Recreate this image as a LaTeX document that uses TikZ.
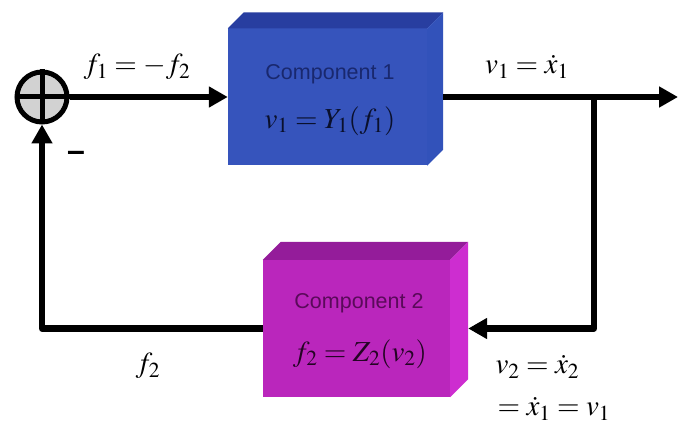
\documentclass[tikz,border=0pt]{standalone}
\usepackage{mathptmx}
\usepackage{fontspec}
\newfontfamily\compfont{Liberation Sans}
\usetikzlibrary{arrows.meta, calc}
\definecolor{blueFront}{RGB}{54,84,188}
\definecolor{blueTop}{RGB}{40,62,160}
\definecolor{blueSide}{RGB}{50,82,186}
\definecolor{blueText}{RGB}{25,40,110}
\definecolor{pinkFront}{RGB}{186,38,188}
\definecolor{pinkTop}{RGB}{148,28,154}
\definecolor{pinkSide}{RGB}{205,45,208}
\definecolor{pinkText}{RGB}{90,10,90}
% top and right faces of a box node: name, depth, top colour, side colour
\newcommand{\BoxFaces}[4]{%
    \fill[#3] (#1.north west) -- ++(#2,-#2) -- ([shift={(#2,-#2)}]#1.north east) -- (#1.north east) -- cycle;
    \fill[#4] (#1.north east) -- ++(#2,-#2) -- ([shift={(#2,-#2)}]#1.south east) -- (#1.south east) -- cycle;
}

\begin{document}
\begin{tikzpicture}[x=1pt, y=-1pt,
    flow/.style={line width=6.5pt, -{Triangle[length=19pt, width=20pt]}},
    sumnode/.style={circle, draw, line width=5pt, fill=gray!35, minimum size=50pt, inner sep=0pt},
    frontbox/.style={minimum width=#1, minimum height=137pt, inner sep=0pt},
    lbl/.style={font=\fontsize{29}{33}\selectfont},
    comptext/.style={font=\compfont\fontsize{21.5}{24}\selectfont},
    signlbl/.style={font=\compfont\bfseries\fontsize{32}{34}\selectfont}]
    \useasboundingbox (0,0) rectangle (678,425);

    % Explicit coordinates (pixels, y downwards)
    \node[sumnode] (sum) at (42,97) {};
    \draw[line width=5pt] (sum.north) -- (sum.south) (sum.west) -- (sum.east);

    \node[frontbox=199pt, fill=blueFront] (comp1) at (327.5,97) {};  % Component 1
    \BoxFaces{comp1}{16}{blueTop}{blueSide}
    \node[frontbox=187pt, fill=pinkFront] (comp2) at (356.5,328.5) {}; % Component 2
    \BoxFaces{comp2}{18}{pinkTop}{pinkSide}

    \coordinate (branch) at (594,97);
    \coordinate (out)    at (678,97);

    % connectors
    \draw[flow] (sum.east) -- (comp1.west);
    \draw[flow] ([xshift=16pt]comp1.east) -- (out);
    \draw[flow, line join=round] (branch) |- ([xshift=18pt]comp2.east);
    \draw[flow, line join=round] (comp2.west) -| (sum.south);

    % labels
    \node[lbl] (f1lbl) at (137,67) {$f_1 = -f_2$};
    \node[lbl] (v1lbl) at (527,67) {$v_1 = \dot{x}_1$};
    \node[signlbl] (minus) at (76,156) {–};
    \node[lbl] (f2lbl) at (148,366) {$f_2$};
    \node[lbl, anchor=west] (v2lbl) at (492,367) {$v_2 = \dot{x}_2$};
    \node[lbl, anchor=west] (v1eq) at (494,409) {$= \dot{x}_1 = v_1$};

    \node[comptext, text=blueText] (c1name) at (330,74) {Component 1};
    \node[lbl, text=blueText!40!black] (c1eq) at (330,121) {$v_1 = Y_1(f_1)$};
    \node[comptext, text=pinkText] (c2name) at (359,303) {Component 2};
    \node[lbl, text=pinkText!40!black] (c2eq) at (360,354) {$f_2 = Z_2(v_2)$};
\end{tikzpicture}
\end{document}
